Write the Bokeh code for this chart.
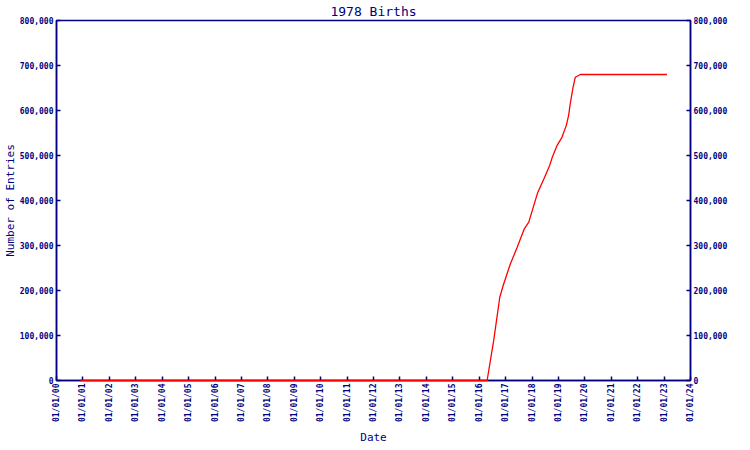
import pandas as pd
from bokeh.plotting import figure
from bokeh.models import (LinearAxis, FixedTicker, DatetimeTickFormatter,
                          NumeralTickFormatter, Range1d, Title)
from bokeh.embed import file_html
from bokeh.resources import INLINE

# ---- data ----
dates = ["2000-12-01", "2016-04-20", "2016-07-20", "2016-10-12", "2016-11-28",
         "2017-03-07", "2017-06-10", "2017-09-16", "2017-11-17", "2018-02-02",
         "2018-03-21", "2018-06-13", "2018-09-02", "2018-10-08", "2018-12-13",
         "2019-02-20", "2019-04-20", "2019-05-22", "2019-06-13", "2019-07-23",
         "2019-08-22", "2019-10-30", "2023-02-10"]
entries = [0, 0, 89000, 185000, 211000,
           259000, 296000, 337000, 352000, 393000,
           418000, 448000, 478000, 496000, 522000,
           541000, 567000, 589000, 615000, 652000,
           674000, 680000, 680000]
tick_years = list(range(2000, 2025))
y_ticks = [0, 100000, 200000, 300000, 400000, 500000, 600000, 700000, 800000]
x_label = "Date"
y_label = "Number of Entries"

NAVY = "#000080"
FONT = "DejaVu Sans Mono"

x = pd.to_datetime(dates)
tick_ms = [pd.Timestamp(f"{yr}-01-01").value / 1e6 for yr in tick_years]

p = figure(frame_width=634, frame_height=360, x_axis_type="datetime",
           output_backend="svg", toolbar_location=None,
           title="1978 Births",
           x_range=Range1d(tick_ms[0], tick_ms[-1]),
           y_range=Range1d(0, 800000),
           min_border_left=0, min_border_right=0,
           min_border_top=12, min_border_bottom=0)

r = p.line(x, entries, line_color="#ff0000", line_width=1.3)
r.level = "overlay"

p.xgrid.visible = False
p.ygrid.visible = False
p.outline_line_color = NAVY
p.outline_line_width = 1.5
p.background_fill_color = "white"
p.border_fill_color = "white"

p.title.text_font = FONT
p.title.text_font_size = "13px"
p.title.text_font_style = "normal"
p.title.text_color = NAVY
p.title.align = "center"
p.title.standoff = 3

fmt = "%m/%d/%y"
p.xaxis.formatter = DatetimeTickFormatter(
    milliseconds=fmt, seconds=fmt, minsec=fmt, minutes=fmt, hourmin=fmt,
    hours=fmt, days=fmt, months=fmt, years=fmt)
p.xaxis.ticker = FixedTicker(ticks=tick_ms, minor_ticks=[])
p.xaxis.major_label_orientation = 1.5708

yaxis_r = LinearAxis()
p.add_layout(yaxis_r, "right")

p.yaxis.axis_label = None
p.yaxis[0].axis_label = y_label
for ax in p.yaxis:
    ax.ticker = FixedTicker(ticks=y_ticks, minor_ticks=[])
    ax.formatter = NumeralTickFormatter(format="0,0")

for ax in list(p.xaxis) + list(p.yaxis):
    ax.axis_line_color = NAVY
    ax.axis_line_width = 1.5
    ax.major_tick_line_color = NAVY
    ax.major_tick_line_width = 1.5
    ax.major_tick_in = 4
    ax.major_tick_out = 0
    ax.minor_tick_line_color = None
    ax.major_label_text_font = FONT
    ax.major_label_text_font_size = "8px"
    ax.major_label_text_font_style = "bold"
    ax.major_label_text_color = NAVY
    ax.major_label_standoff = 3
    ax.axis_label_text_font = FONT
    ax.axis_label_text_font_size = "11px"
    ax.axis_label_text_font_style = "normal"
    ax.axis_label_text_color = NAVY

p.yaxis[0].axis_label_standoff = 0

p.add_layout(Title(text=x_label, align="center", text_font=FONT,
                   text_font_size="11px", text_font_style="normal",
                   text_color=NAVY, standoff=6), "below")

open("out.html", "w").write(file_html(p, INLINE))
